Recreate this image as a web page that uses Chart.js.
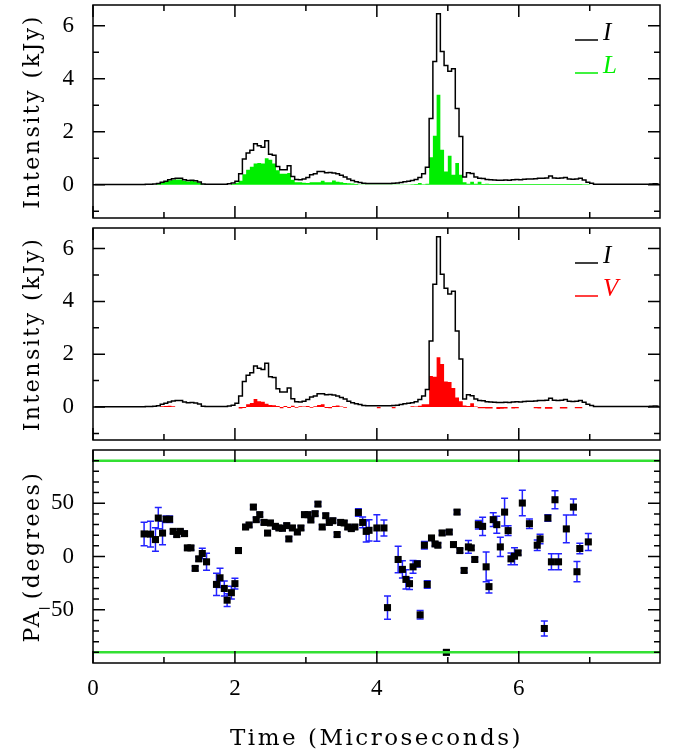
<!DOCTYPE html>
<html>
<head>
<meta charset="utf-8">
<script src="https://cdn.jsdelivr.net/npm/chart.js@4.4.1/dist/chart.umd.min.js"></script>
<style>
  body { margin: 0; background: #fff; width: 676px; height: 753px; position: relative; overflow: hidden; }
  canvas { position: absolute; left: 0; }
</style>
</head>
<body>
<canvas id="c1" width="676" height="223" style="top:0px"></canvas>
<canvas id="c2" width="676" height="222" style="top:223px"></canvas>
<canvas id="c3" width="676" height="308" style="top:445px"></canvas>
<script>
// profile bins, 1/19 microsecond wide, starting at t = 0
const BIN_WIDTH = 1 / 19;

// total intensity I (kJy)
const INTENSITY = [
  0.01,0.01,0.01,0.01,0.01,0.01,0.01,0.01,0.01,0.01,
  0.01,0.01,0.01,0.01,0.02,0.02,0.03,0.05,0.10,0.14,
  0.19,0.23,0.25,0.25,0.19,0.16,0.17,0.15,0.11,0.03,
  0.02,0.02,0.02,0.02,0.02,0.02,0.04,0.07,0.14,0.42,
  0.97,1.20,1.30,1.55,1.47,1.42,1.66,1.15,1.12,0.69,
  0.57,0.57,0.72,0.31,0.20,0.19,0.22,0.28,0.38,0.42,
  0.50,0.50,0.46,0.47,0.45,0.42,0.36,0.30,0.22,0.16,
  0.12,0.09,0.06,0.05,0.05,0.05,0.05,0.05,0.05,0.05,
  0.06,0.07,0.09,0.12,0.14,0.16,0.20,0.28,0.42,0.66,
  2.50,4.65,6.45,5.03,4.50,4.28,4.38,2.88,1.82,0.30,
  0.46,0.43,0.30,0.25,0.24,0.20,0.19,0.18,0.17,0.17,
  0.18,0.17,0.19,0.20,0.19,0.21,0.22,0.22,0.23,0.25,
  0.25,0.26,0.33,0.26,0.25,0.26,0.28,0.22,0.21,0.22,
  0.25,0.18,0.10,0.06,0.02,0.02,0.02,0.02,0.02,0.02,
  0.02,0.02,0.02,0.02,0.02,0.02,0.02,0.02,0.02,0.03,
  0.04,0.03
];

// linear polarisation L (kJy)
const LINEAR = [
  0,0,0,0,0,0,0,0,0,0,
  0,0,0,0,0,0,0,0.03,0.07,0.12,
  0.16,0.19,0.20,0.20,0.15,0.13,0.15,0.13,0.08,0.02,
  0,0,0,0,0,0,0,0.03,0.08,0.15,
  0.40,0.57,0.68,0.80,0.82,0.80,1.00,0.95,0.80,0.55,
  0.42,0.42,0.45,0.19,0.10,0.10,0.08,0.07,0.10,0.10,
  0.10,0.15,0.10,0.10,0.16,0.12,0.10,0.07,0.06,0.05,
  0.03,0.01,0.01,0.01,0.01,0.01,0.01,0.01,0.01,0.01,
  0.01,0.01,0.01,0.01,0.01,0.02,0.03,0.07,0.02,0.04,
  1.04,1.85,3.40,1.32,0.50,1.10,0.38,0.82,0.38,0.10,
  0.04,0.12,0.04,0.12,0.03,0.04,0.03,0.03,0.03,0.03,
  0.03,0.03,0.03,0.03,0.03,0.03,0.03,0.03,0.03,0.03,
  0.03,0.03,0.03,0.03,0.03,0.03,0.03,0.03,0.03,0.03,
  0.03,0.02,0.02,0,0,0,0,0,0,0,
  0,0,0,0,0,0,0,0,0,0,
  0,0
];

// circular polarisation V (kJy)
const CIRCULAR = [
  0,0,0,0,0,0,0,0,0,0,
  0,0,0,0,0,0,0,0,0.03,0.04,
  0.05,0.03,0,0,0,0,0,0,0,0,
  0,0,0,0,0,0,0,0,0,-0.06,
  -0.04,0.10,0.15,0.30,0.22,0.20,0.12,0.08,0.07,0.04,
  -0.05,0.04,-0.04,0.05,-0.03,0.03,0.02,0.04,-0.03,0.03,
  0.08,0.10,-0.04,-0.05,0.04,0.06,0.02,-0.03,0,0,
  0,0,0,0,0,0,-0.05,0,0,0,
  -0.05,0,0,0,0,0.03,0.02,0.05,0.10,0.10,
  1.17,1.15,1.88,1.63,0.97,0.95,0.72,0.36,0.22,0.06,
  0.04,0.14,0.02,-0.05,-0.05,-0.06,-0.06,0,-0.08,-0.07,
  -0.06,0,-0.06,-0.05,0,0,0,0,-0.05,-0.06,
  0,-0.07,-0.07,0,0,-0.06,-0.06,0,0,-0.05,
  -0.05,0,0,0,0,0,0,0,0,0,
  0,0,0,0,0,0,0,0,0,0,
  0,0
];

// position angle samples
const PA_TIME = [
  0.72,0.81,0.88,0.92,0.98,1.03,1.08,1.13,1.18,1.23,
  1.29,1.33,1.38,1.44,1.49,1.54,1.60,1.74,1.79,1.85,
  1.89,1.95,2.00,2.05,2.15,2.20,2.26,2.30,2.35,2.41,
  2.46,2.50,2.57,2.62,2.67,2.73,2.76,2.81,2.88,2.93,
  2.98,3.03,3.07,3.13,3.17,3.23,3.28,3.33,3.38,3.44,
  3.49,3.54,3.59,3.64,3.69,3.74,3.80,3.85,3.89,4.00,
  4.10,4.15,4.30,4.36,4.41,4.46,4.51,4.57,4.61,4.67,
  4.71,4.77,4.82,4.86,4.92,4.98,5.02,5.08,5.13,5.17,
  5.23,5.29,5.33,5.38,5.43,5.49,5.54,5.58,5.64,5.69,
  5.74,5.80,5.85,5.89,5.94,5.99,6.05,6.15,6.26,6.30,
  6.36,6.41,6.46,6.51,6.56,6.67,6.77,6.82,6.86,6.98
];
const PA_DEG = [
  21.2,21,15.9,36.1,22,35,35,23.6,20.6,23.6,
  21.5,8.1,8.1,-11.2,-2.2,2.8,-5,-26.2,-20,-30,
  -41,-34,-25.5,5.6,27.7,29.6,46.4,34.6,39.3,32,
  22,31.5,28.3,26.8,26.5,29,16.5,26.8,23,26.8,
  39.3,39.3,34.3,40.2,49.2,27.7,38.3,32,33.6,20.6,
  32,31.5,27.7,26.2,27.7,41.4,32,23.6,24.6,26.8,
  26.8,-48,-2.8,-12.1,-21.5,-25.5,-9.7,-6.9,-54.8,10.6,
  -26.2,17.4,11.8,10.6,22.1,-90,23,11.2,41.7,5.6,
  -13.1,9.0,8.1,-2.8,29.9,28.3,-9.7,-28.3,34.6,29.9,
  9.0,41.7,24.3,-2.2,0.3,3.4,50.2,30.8,10.6,16.5,
  -67.6,36.1,-5,53.3,-5,25.9,46.4,-14.3,7.5,13.7
];
const PA_ERR = [
  11,12,11,10,11,3,3,2,2,2,
  2,2,2,2,2,5,8,10.5,9,7,
  6,6,5,2,2,2,2,2,2,2,
  2,2,2,2,2,2,2,2,2,2,
  2,2,2,2,2,2,2,2,2,2,
  2,2,2,2,2,3.5,5,10,10,12.5,
  7.5,11,12.5,8,9,5.5,6,3,4,3.5,
  3.5,2,2,2,2,2,2,2,2,2,
  2,6,2,2,4,8.5,14,6,6.5,8,
  9,13,4.5,5.5,8,2,12,4.5,5,4.5,
  7,3,7.5,8.5,7.5,13,7.5,9.5,5,8
];
const PA_LIMITS = [90, -90];

const TITLE_FONT = '"DejaVu Serif", serif';
const TICK_FONT = '"Liberation Serif", serif';
Chart.defaults.font.family = TICK_FONT;
Chart.defaults.color = '#000';
Chart.defaults.animation = false;

const binTime = INTENSITY.map((v, i) => (i + 0.5) * BIN_WIDTH);
const pts = arr => arr.map((v, i) => ({ x: binTime[i], y: v }));
const fmt = v => (v < 0 ? '\u2212' + Math.abs(v) : String(v));

// axis titles are drawn a little wider spaced, like the plotting font of the original
function spacedTitle(s) {
  if (s._spaced) return;
  s._spaced = true;
  const draw = s.drawTitle;
  s.drawTitle = function () {
    this.ctx.save();
    this.ctx.letterSpacing = '2.5px';
    draw.call(this);
    this.ctx.restore();
  };
}

// box with inward ticks on all four sides
const frame = {
  id: 'frame',
  afterDraw(chart, args, o) {
    const { ctx, chartArea: a } = chart;
    const sx = chart.scales.x, sy = chart.scales.y;
    ctx.save();
    ctx.strokeStyle = '#000';
    ctx.lineWidth = 1.5;
    ctx.beginPath();
    for (let k = o.xk[0]; k <= o.xk[1]; k++) {
      const p = sx.getPixelForValue(k * o.xMinor);
      const len = k % o.xEvery === 0 ? 12 : 6;
      ctx.moveTo(p, a.bottom); ctx.lineTo(p, a.bottom - len);
      ctx.moveTo(p, a.top); ctx.lineTo(p, a.top + len);
    }
    for (let k = o.yk[0]; k <= o.yk[1]; k++) {
      const p = sy.getPixelForValue(k * o.yMinor);
      const len = k % o.yEvery === 0 ? 12 : 6;
      ctx.moveTo(a.left, p); ctx.lineTo(a.left + len, p);
      ctx.moveTo(a.right, p); ctx.lineTo(a.right - len, p);
    }
    ctx.stroke();
    ctx.strokeRect(a.left, a.top, a.right - a.left, a.bottom - a.top);
    ctx.restore();
  }
};

// "—I", "—L" style keys in the upper right
const keys = {
  id: 'keys',
  afterDraw(chart, args, o) {
    if (!o.items) return;
    const { ctx, chartArea: a } = chart;
    ctx.save();
    ctx.font = 'italic 25px "Liberation Serif"';
    ctx.textBaseline = 'alphabetic';
    o.items.forEach((it, j) => {
      const y = a.top + 35 + j * 33;
      ctx.strokeStyle = it.color;
      ctx.fillStyle = it.color;
      ctx.lineWidth = 1.5;
      ctx.beginPath();
      ctx.moveTo(a.right - 85, y); ctx.lineTo(a.right - 62, y);
      ctx.stroke();
      ctx.fillText(it.label, a.right - 57, y);
    });
    ctx.restore();
  }
};

const errBars = {
  id: 'errBars',
  beforeDatasetsDraw(chart) {
    const { ctx } = chart;
    const sx = chart.scales.x, sy = chart.scales.y;
    ctx.save();
    ctx.strokeStyle = '#2222ff';
    ctx.lineWidth = 1.5;
    ctx.beginPath();
    PA_TIME.forEach((t, i) => {
      const x = sx.getPixelForValue(t);
      const y1 = sy.getPixelForValue(PA_DEG[i] + PA_ERR[i]);
      const y2 = sy.getPixelForValue(PA_DEG[i] - PA_ERR[i]);
      ctx.moveTo(x, y1); ctx.lineTo(x, y2);
      ctx.moveTo(x - 3.5, y1); ctx.lineTo(x + 3.5, y1);
      ctx.moveTo(x - 3.5, y2); ctx.lineTo(x + 3.5, y2);
    });
    ctx.stroke();
    ctx.restore();
  }
};

function xScale(show) {
  const s = {
    type: 'linear', min: 0, max: 7.99, display: show,
    grid: { display: false, drawTicks: false }, border: { display: false },
    ticks: { stepSize: 2, includeBounds: false, padding: 12, font: { size: 23 }, callback: v => fmt(v) },
    title: { display: show, text: 'Time (Microseconds)', font: { size: 23, family: TITLE_FONT },
             padding: { top: 0, bottom: 0 } }
  };
  if (show) {
    s.afterFit = sc => { sc.height = 90; sc.paddingLeft = 0; sc.paddingRight = 0; spacedTitle(sc); };
  }
  return s;
}

function yScale(min, max, step, title, hide) {
  return {
    type: 'linear', min: min, max: max,
    grid: { display: false, drawTicks: false }, border: { display: false },
    ticks: { stepSize: step, includeBounds: false, padding: 19, font: { size: 23 },
             callback: v => (hide.includes(v) ? null : fmt(v)) },
    title: { display: true, text: title, font: { size: 22, family: TITLE_FONT }, padding: { top: 20, bottom: 0 } },
    afterFit: s => { s.width = 93; s.paddingTop = 0; s.paddingBottom = 0; spacedTitle(s); }
  };
}

function profileChart(id, pol, polColor, polLabel) {
  new Chart(document.getElementById(id), {
    type: 'line',
    data: {
      datasets: [
        { data: pts(INTENSITY), stepped: 'middle', borderColor: '#000', borderWidth: 1.5,
          pointRadius: 0, fill: false, order: 0 },
        { data: pts(pol), stepped: 'middle', borderColor: 'rgba(0,0,0,0)', borderWidth: 0,
          backgroundColor: polColor, pointRadius: 0, fill: 'origin', order: 1 }
      ]
    },
    options: {
      responsive: false,
      layout: { padding: { top: 5, bottom: 5, left: 0, right: 16 } },
      plugins: {
        legend: { display: false }, tooltip: { enabled: false },
        frame: { xk: [0, 7], xMinor: 1, xEvery: 2, yk: [-1, 6], yMinor: 1, yEvery: 2 },
        keys: { items: [{ label: 'I', color: '#000' }, { label: polLabel, color: polColor }] }
      },
      scales: { x: xScale(false), y: yScale(-1.25, 6.78, 2, 'Intensity (kJy)', []) }
    },
    plugins: [frame, keys]
  });
}

profileChart('c1', LINEAR, '#00ee00', 'L');
profileChart('c2', CIRCULAR, '#ff0000', 'V');

new Chart(document.getElementById('c3'), {
  type: 'scatter',
  data: {
    datasets: [
      ...PA_LIMITS.map(v => ({
        type: 'line', data: [{ x: 0, y: v }, { x: 8, y: v }],
        borderColor: '#33e033', borderWidth: 2.5, pointRadius: 0, fill: false
      })),
      { data: PA_TIME.map((t, i) => ({ x: t, y: PA_DEG[i] })),
        pointStyle: 'rect', pointRadius: 5, backgroundColor: '#000', borderWidth: 0 }
    ]
  },
  options: {
    responsive: false,
    layout: { padding: { top: 5, bottom: 0, left: 0, right: 16 } },
    plugins: {
      legend: { display: false }, tooltip: { enabled: false },
      frame: { xk: [0, 7], xMinor: 1, xEvery: 2, yk: [-9, 9], yMinor: 10, yEvery: 5 }
    },
    scales: { x: xScale(true), y: yScale(-100, 100, 50, 'PA (degrees)', [-100, 100]) }
  },
  plugins: [frame, errBars]
});
</script>
</body>
</html>
